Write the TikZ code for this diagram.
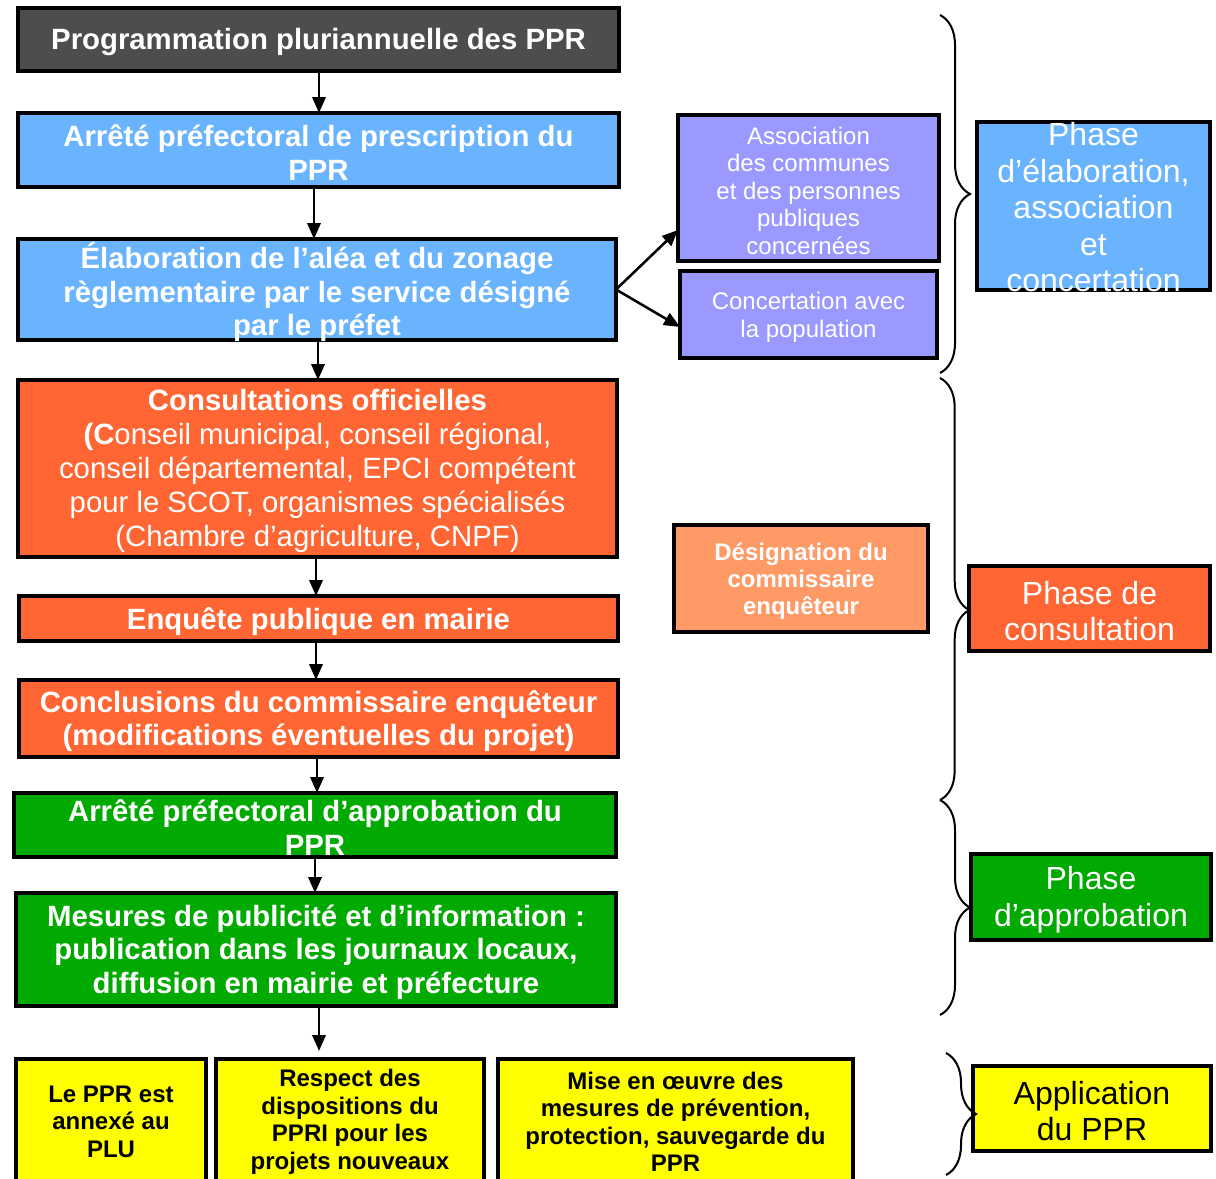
\documentclass[tikz,border=0pt]{standalone}
\usepackage{fontspec}
\setmainfont{Liberation Sans}
\usetikzlibrary{arrows.meta,decorations.pathreplacing,calc}
\definecolor{cdark}{HTML}{4D4D4D}
\definecolor{cblue}{HTML}{6AB4FF}
\definecolor{cpurple}{HTML}{9999FF}
\definecolor{corange}{HTML}{FF6633}
\definecolor{clorange}{HTML}{FF9966}
\definecolor{cgreen}{HTML}{00AA00}
\definecolor{cyellow}{HTML}{FFFF00}
\newcommand{\fbigb}{\fontsize{22}{25}\selectfont\bfseries}
\newcommand{\fbign}{\fontsize{22}{25.5}\selectfont}
\newcommand{\fsmn}{\fontsize{18}{20.6}\selectfont}
\newcommand{\fsmb}{\fontsize{18}{20.6}\selectfont\bfseries}
\newcommand{\fphase}{\fontsize{24}{27.3}\selectfont}
\newcommand{\mybox}[6]{\node[boxst, fill=#2, minimum width={(#5-#3)*0.75pt}, minimum height={(#6-#4)*0.75pt}] (#1) at ({(#3+#5)/2},{(#4+#6)/2}) {};}
\tikzset{
  boxst/.style={draw=black, line width=2.3pt, inner sep=0pt, outer sep=0pt, rectangle},
  tw/.style={text=white, align=center, inner sep=0pt, yshift=-2pt},
  tb/.style={text=black, align=center, inner sep=0pt, yshift=-2pt},
  arr/.style={line width=1.9pt, -{Triangle[length=12pt,width=10pt]}},
  brc/.style={decorate, line width=1.5pt, decoration={brace, amplitude=#1}},
}
\begin{document}
\begin{tikzpicture}[x=0.75pt,y=-0.75pt]
\fill[white] (0,0) rectangle (1216,1178);
\useasboundingbox (0,0) rectangle (1216,1178);

% left column
\mybox{prog}{cdark}{18}{8}{619}{71}
\mybox{presc}{cblue}{18}{113}{619}{187}
\mybox{elab}{cblue}{18}{239}{616}{340}
\mybox{consult}{corange}{18}{380}{617}{557}
\mybox{enq}{corange}{19}{596}{618}{641}
\mybox{concl}{corange}{19}{680}{618}{757}
\mybox{appr}{cgreen}{14}{793}{616}{857}
\mybox{mes}{cgreen}{16}{893}{616}{1006}
\mybox{ya}{cyellow}{16}{1059}{206}{1182}
\mybox{yb}{cyellow}{216}{1059}{484}{1182}
\mybox{yc}{cyellow}{498}{1059}{853}{1182}

% middle column
\mybox{assoc}{cpurple}{678}{115}{939}{261}
\mybox{conc}{cpurple}{680}{271}{937}{358}
\mybox{desig}{clorange}{674}{525}{928}{632}

% phases
\mybox{ph1}{cblue}{977}{122}{1210}{290}
\mybox{ph2}{corange}{969}{566}{1210}{651}
\mybox{ph3}{cgreen}{971}{854}{1211}{940}
\mybox{ph4}{cyellow}{973}{1066}{1211}{1151}

% texts
\node[tw, font=\fbigb] (prog-t) at (prog) {Programmation pluriannuelle des PPR};
\node[tw, font=\fbigb] (presc-t) at (presc) {Arrêté préfectoral de prescription du\\PPR};
\node[tw, font=\fbigb] (elab-t) at (elab) {Élaboration de l'aléa et du zonage\\règlementaire par le service désigné\\par le préfet};
\node[tw, font=\fbign] (consult-t) at (consult) {\textbf{Consultations officielles}\\\textbf{(C}onseil municipal, conseil régional,\\conseil départemental, EPCI compétent\\pour le SCOT, organismes spécialisés\\(Chambre d’agriculture, CNPF)};
\node[tw, font=\fbigb] (enq-t) at (enq) {Enquête publique en mairie};
\node[tw, font=\fbigb] (concl-t) at (concl) {Conclusions du commissaire enquêteur\\(modifications éventuelles du projet)};
\node[tw, font=\fbigb] (appr-t) at (appr) {Arrêté préfectoral d’approbation du\\PPR};
\node[tw, font=\fbigb] (mes-t) at (mes) {Mesures de publicité et d’information :\\publication dans les journaux locaux,\\diffusion en mairie et préfecture};
\node[tb, font=\fsmb] (ya-t) at (111,1119) {Le PPR est\\annexé au\\PLU};
\node[tb, font=\fsmb] (yb-t) at (350,1119) {Respect des\\dispositions du\\PPRI pour les\\projets nouveaux};
\node[tb, font=\fsmb] (yc-t) at (675.5,1119) {Mise en œuvre des\\mesures de prévention,\\protection, sauvegarde du\\PPR};
\node[tw, font=\fsmn] (assoc-t) at (assoc) {Association\\des communes\\et des personnes\\publiques\\concernées};
\node[tw, font=\fsmn] (conc-t) at (conc) {Concertation avec\\la population};
\node[tw, font=\fsmb] (desig-t) at (desig) {Désignation du\\commissaire\\enquêteur};
\node[tw, font=\fphase, yshift=1pt] (ph1-t) at (ph1) {Phase\\d’élaboration,\\association\\et\\concertation};
\node[tw, font=\fphase] (ph2-t) at (ph2) {Phase de\\consultation};
\node[tw, font=\fphase] (ph3-t) at (ph3) {Phase\\d’approbation};
\node[tb, font=\fphase] (ph4-t) at (ph4) {Application\\du PPR};

% arrows
\draw[arr] (prog.south -| 319,0) -- (presc.north -| 319,0);
\draw[arr] (presc.south -| 314,0) -- (elab.north -| 314,0);
\draw[arr] (elab.south -| 318,0) -- (consult.north -| 318,0);
\draw[arr] (consult.south -| 316,0) -- (enq.north -| 316,0);
\draw[arr] (enq.south -| 316,0) -- (concl.north -| 316,0);
\draw[arr] (concl.south -| 317,0) -- (appr.north -| 317,0);
\draw[arr] (appr.south -| 315,0) -- (mes.north -| 315,0);
\coordinate (mesend) at (319,1051);
\draw[arr] (mes.south -| 319,0) -- (mesend);
\draw[arr] (elab.east) -- (assoc.west |- 0,230);
\draw[arr] (elab.east) -- (conc.west |- 0,327);

% braces
\draw[brc=22.5pt] (940,15) -- (940,373);
\draw[brc=22pt, decoration={aspect=0.55}] (940,378) -- (940,800);
\draw[brc=22.5pt] (940,800) -- (940,1015);
\draw[brc=22.5pt] (946,1053) -- (946,1175);
\end{tikzpicture}
\end{document}
